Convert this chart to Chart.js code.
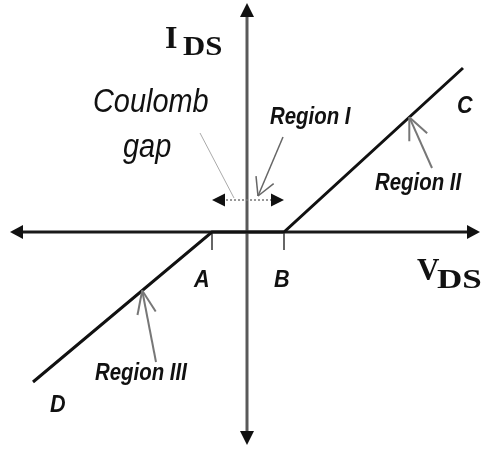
<!DOCTYPE html>
<html>
<head>
<meta charset="utf-8">
<script src="https://cdn.jsdelivr.net/npm/chart.js@4.4.0/dist/chart.umd.min.js"></script>
<style>
html,body{margin:0;padding:0;background:#fff;}
#wrap{width:482px;height:450px;position:relative;}
</style>
</head>
<body>
<div id="wrap"><canvas id="iv"></canvas></div>
<script>
// I-V characteristic through the corners D, A, B, C
const vds = [-21.4, -3.5, 3.7, 21.6];
const ids = [-15.0, 0, 0, 16.4];
const cornerNames = ["D", "A", "B", "C"];

// visible window and axis arrow extents
const vRange = [-24.7, 23.5];
const iRange = [-21.8, 23.2];
const vAxisEnds = [-23.7, 23.3];
const iAxisEnds = [-21.3, 22.9];
const gapLevel = 3.2;

function txt(ctx, s, x, y, font, sx) {
  ctx.save();
  ctx.font = font;
  ctx.translate(x, y);
  ctx.scale(sx || 1, 1);
  ctx.fillText(s, 0, 0);
  ctx.restore();
}

function line(ctx, x1, y1, x2, y2) {
  ctx.beginPath();
  ctx.moveTo(x1, y1);
  ctx.lineTo(x2, y2);
  ctx.stroke();
}

// filled triangle head pointing from (bx,by) toward tip (tx,ty)
function solidHead(ctx, tx, ty, bx, by, half) {
  const dx = tx - bx, dy = ty - by, len = Math.hypot(dx, dy);
  const nx = -dy / len * half, ny = dx / len * half;
  ctx.beginPath();
  ctx.moveTo(tx, ty);
  ctx.lineTo(bx + nx, by + ny);
  ctx.lineTo(bx - nx, by - ny);
  ctx.closePath();
  ctx.fill();
}

// thin pointer with an open head
function pointer(ctx, fx, fy, tx, ty, len, ang) {
  line(ctx, fx, fy, tx, ty);
  const a = Math.atan2(fy - ty, fx - tx);
  line(ctx, tx, ty, tx + Math.cos(a + ang) * len, ty + Math.sin(a + ang) * len);
  line(ctx, tx, ty, tx + Math.cos(a - ang) * len, ty + Math.sin(a - ang) * len);
}

const axesPlugin = {
  id: 'axes',
  beforeDatasetsDraw(chart) {
    const ctx = chart.ctx, xs = chart.scales.x, ys = chart.scales.y;
    const ox = xs.getPixelForValue(0), oy = ys.getPixelForValue(0);
    const l = xs.getPixelForValue(vAxisEnds[0]), r = xs.getPixelForValue(vAxisEnds[1]);
    const t = ys.getPixelForValue(iAxisEnds[1]), b = ys.getPixelForValue(iAxisEnds[0]);
    ctx.save();
    // V_DS axis
    ctx.strokeStyle = '#1a1a1a';
    ctx.fillStyle = '#111';
    ctx.lineWidth = 3;
    line(ctx, l + 8, oy, r - 8, oy);
    solidHead(ctx, l, oy, l + 13, oy, 7);
    solidHead(ctx, r, oy, r - 13, oy, 7);
    // I_DS axis
    ctx.strokeStyle = '#5a5a5a';
    line(ctx, ox, t + 8, ox, b - 8);
    solidHead(ctx, ox, t, ox, t + 14, 7);
    solidHead(ctx, ox, b, ox, b - 14, 7);
    // ticks under A and B
    ctx.strokeStyle = '#666';
    ctx.lineWidth = 2;
    [1, 2].forEach(i => {
      const x = xs.getPixelForValue(vds[i]);
      line(ctx, x, oy, x, ys.getPixelForValue(-1.8));
    });
    ctx.restore();
  }
};

const notesPlugin = {
  id: 'notes',
  afterDatasetsDraw(chart) {
    const ctx = chart.ctx, xs = chart.scales.x, ys = chart.scales.y;
    const X = v => xs.getPixelForValue(v), Y = v => ys.getPixelForValue(v);
    // point on segment i -> i+1 at fraction f
    const along = (i, f) => [
      X(vds[i] + (vds[i + 1] - vds[i]) * f),
      Y(ids[i] + (ids[i + 1] - ids[i]) * f)
    ];
    ctx.save();
    ctx.fillStyle = '#111';
    ctx.textBaseline = 'alphabetic';

    // axis titles
    txt(ctx, 'I', X(-8.2), Y(18.4), 'bold 32px "Liberation Serif"', 1);
    txt(ctx, 'DS', X(-6.4), Y(17.7), 'bold 28px "Liberation Serif"', 1.1);
    txt(ctx, 'V', X(17.0), Y(-4.8), 'bold 31px "Liberation Serif"', 1);
    txt(ctx, 'DS', X(19.0), Y(-5.6), 'bold 28px "Liberation Serif"', 1.25);

    // Coulomb gap double arrow between A and B
    const gl = X(vds[1]), gr = X(vds[2]), gy = Y(gapLevel);
    ctx.strokeStyle = '#777';
    ctx.lineWidth = 1.5;
    ctx.setLineDash([2, 2]);
    line(ctx, gl + 10, gy, gr - 10, gy);
    ctx.setLineDash([]);
    solidHead(ctx, gl, gy, gl + 13, gy, 6.5);
    solidHead(ctx, gr, gy, gr - 13, gy, 6.5);

    txt(ctx, 'Coulomb', X(-15.4), Y(12.0), 'italic 34px "Liberation Sans"', 0.85);
    txt(ctx, 'gap', X(-12.4), Y(7.5), 'italic 34px "Liberation Sans"', 0.85);
    ctx.strokeStyle = '#aaa';
    ctx.lineWidth = 1;
    line(ctx, X(-4.7), Y(9.9), X(-1.3), Y(3.4));

    // region labels and their pointers
    const rf = 'italic bold 24px "Liberation Sans"';
    txt(ctx, 'Region I', X(2.3), Y(10.8), rf, 0.85);
    txt(ctx, 'Region II', X(12.8), Y(4.2), rf, 0.85);
    txt(ctx, 'Region III', X(-15.2), Y(-14.8), rf, 0.85);

    ctx.strokeStyle = '#666';
    ctx.lineWidth = 1.5;
    pointer(ctx, X(3.6), Y(9.5), X(1.1), Y(3.6), 20, 0.5);
    ctx.strokeStyle = '#777';
    ctx.lineWidth = 2;
    const p2 = along(2, 0.70);
    pointer(ctx, X(18.5), Y(6.4), p2[0], p2[1], 24, 0.42);
    const p3 = along(0, 0.61);
    pointer(ctx, X(-9.1), Y(-13.0), p3[0], p3[1], 25, 0.38);

    // corner letters
    const lf = 'italic bold 24px "Liberation Sans"';
    const cornerPos = [[-19.7, -18.0], [-5.3, -5.5], [2.7, -5.5], [21.0, 11.9]];
    cornerNames.forEach((n, i) => {
      txt(ctx, n, X(cornerPos[i][0]), Y(cornerPos[i][1]), lf, 0.9);
    });
    ctx.restore();
  }
};

new Chart(document.getElementById('iv'), {
  type: 'scatter',
  data: {
    datasets: [{
      data: vds.map((v, i) => ({ x: v, y: ids[i] })),
      showLine: true,
      borderColor: '#111',
      borderWidth: 3,
      borderJoinStyle: 'miter',
      pointRadius: 0,
      tension: 0,
      clip: false
    }]
  },
  options: {
    responsive: true,
    maintainAspectRatio: false,
    animation: false,
    layout: { padding: 0 },
    plugins: { legend: { display: false }, tooltip: { enabled: false } },
    scales: {
      x: { type: 'linear', min: vRange[0], max: vRange[1], display: false },
      y: { type: 'linear', min: iRange[0], max: iRange[1], display: false }
    }
  },
  plugins: [axesPlugin, notesPlugin]
});
</script>
</body>
</html>
